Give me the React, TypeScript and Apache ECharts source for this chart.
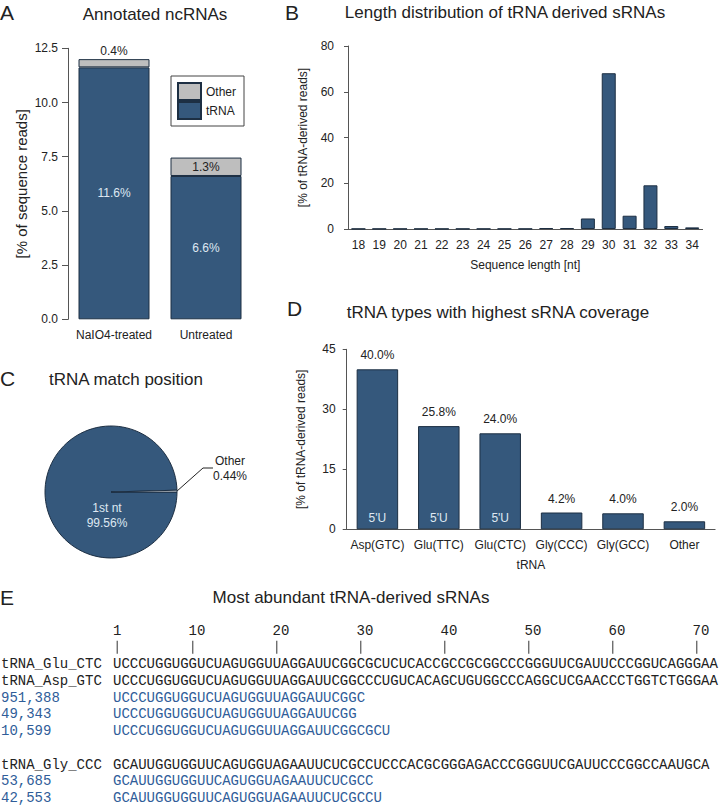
import React, { useEffect, useRef } from 'react';
import * as echarts from 'echarts';

// ---------- Panel A: annotated ncRNAs ----------
const treatments = ['NaIO4-treated', 'Untreated'];
const trnaShare = [11.62, 6.61];
const otherShare = [0.38, 0.85];
const trnaShareLabels = ['11.6%', '6.6%'];
const otherShareLabels = ['0.4%', '1.3%'];

// ---------- Panel B: length distribution ----------
const lengths = ['18', '19', '20', '21', '22', '23', '24', '25', '26', '27', '28', '29', '30', '31', '32', '33', '34'];
const lengthShare = [0.1, 0.1, 0.1, 0.1, 0.1, 0.1, 0.1, 0.1, 0.1, 0.4, 0.4, 4.6, 68.1, 5.8, 19.1, 1.3, 0.7];

// ---------- Panel C: match position ----------
const matchNames = ['1st nt', 'Other'];
const matchShare = [99.56, 0.44];

// ---------- Panel D: tRNA types ----------
const trnaTypes = ['Asp(GTC)', 'Glu(TTC)', 'Glu(CTC)', 'Gly(CCC)', 'Gly(GCC)', 'Other'];
const typeShare = [40.0, 25.8, 24.0, 4.2, 4.0, 2.0];
const fiveU = [true, true, true, false, false, false];

// ---------- Panel E: sequences ----------
const rulerMarks = [1, 10, 20, 30, 40, 50, 60, 70];
const group1Names = ['tRNA_Glu_CTC', 'tRNA_Asp_GTC'];
const group1Seqs = [
  'UCCCUGGUGGUCUAGUGGUUAGGAUUCGGCGCUCUCACCGCCGCGGCCCGGGUUCGAUUCCCGGUCAGGGAA',
  'UCCCUGGUGGUCUAGUGGUUAGGAUUCGGCCCUGUCACAGCUGUGGCCCAGGCUCGAACCCTGGTCTGGGAA',
];
const group1Counts = ['951,388', '49,343', '10,599'];
const group1Reads = [
  'UCCCUGGUGGUCUAGUGGUUAGGAUUCGGC',
  'UCCCUGGUGGUCUAGUGGUUAGGAUUCGG',
  'UCCCUGGUGGUCUAGUGGUUAGGAUUCGGCGCU',
];
const group2Names = ['tRNA_Gly_CCC'];
const group2Seqs = ['GCAUUGGUGGUUCAGUGGUAGAAUUCUCGCCUCCCACGCGGGAGACCCGGGUUCGAUUCCCGGCCAAUGCA'];
const group2Counts = ['53,685', '42,553'];
const group2Reads = ['GCAUUGGUGGUUCAGUGGUAGAAUUCUCGCC', 'GCAUUGGUGGUUCAGUGGUAGAAUUCUCGCCU'];

const BLUE = '#35587c';
const EDGE = '#1d2f43';
const GRAY = '#bebebe';
const LIGHT = '#dfe8f2';
const INK = '#222222';
const AXIS = '#555555';
const SEQ_BLUE = '#2f5d99';
const SANS = '"Liberation Sans", Arial, sans-serif';
const MONO = '"Liberation Mono", "Courier New", monospace';

function txt(text: string, x: number, y: number, size: number, align = 'center', color = INK, family = SANS) {
  return {
    type: 'text',
    x,
    y,
    silent: true,
    style: { text, fill: color, fontSize: size, fontFamily: family, align, verticalAlign: 'middle' },
  };
}

function buildOption() {
  const graphic: any[] = [];
  // panel letters and titles
  graphic.push(txt('A', 0, 12, 21, 'left'));
  graphic.push(txt('Annotated ncRNAs', 155, 14.5, 17));
  graphic.push(txt('B', 285, 12, 21, 'left'));
  graphic.push(txt('Length distribution of tRNA derived sRNAs', 505, 12.5, 17));
  graphic.push(txt('C', 0, 378, 21, 'left'));
  graphic.push(txt('tRNA match position', 126, 379, 17));
  graphic.push(txt('D', 287, 308, 21, 'left'));
  graphic.push(txt('tRNA types with highest sRNA coverage', 498, 312.7, 17));
  graphic.push(txt('E', 0, 597.5, 21, 'left'));
  graphic.push(txt('Most abundant tRNA-derived sRNAs', 351, 597, 17));

  // panel E sequence block
  const seqX = 113;
  const charW = 8.4;
  const rowH = 16.75;
  const row0 = 664;
  rulerMarks.forEach((m) => {
    const cx = seqX + (m - 1) * charW;
    graphic.push(txt(String(m), cx, row0 - 2 * rowH, 14, 'left', INK, MONO));
    graphic.push({
      type: 'line',
      silent: true,
      shape: { x1: cx + charW / 2, y1: row0 - rowH - 6.5, x2: cx + charW / 2, y2: row0 - rowH + 6.5 },
      style: { stroke: '#333', lineWidth: 1 },
    });
  });
  const groups = [
    { names: group1Names, seqs: group1Seqs, counts: group1Counts, reads: group1Reads },
    { names: group2Names, seqs: group2Seqs, counts: group2Counts, reads: group2Reads },
  ];
  let r = 0;
  groups.forEach((g, gi) => {
    if (gi > 0) r += 1;
    g.names.forEach((n, i) => {
      const y = row0 + r * rowH;
      graphic.push(txt(n, 1, y, 14, 'left', INK, MONO));
      graphic.push(txt(g.seqs[i], seqX, y, 14, 'left', INK, MONO));
      r += 1;
    });
    g.counts.forEach((c, i) => {
      const y = row0 + r * rowH;
      graphic.push(txt(c, 1, y, 14, 'left', SEQ_BLUE, MONO));
      graphic.push(txt(g.reads[i], seqX, y, 14, 'left', SEQ_BLUE, MONO));
      r += 1;
    });
  });

  const axisLine = { show: true, lineStyle: { color: AXIS, width: 1 } };
  const axisLabel = { color: INK, fontSize: 12, fontFamily: SANS, interval: 0 };
  const nameStyle = { color: INK, fontSize: 12, fontFamily: SANS };
  const barStyle = { color: BLUE, borderColor: EDGE, borderWidth: 1 };

  return {
    animation: false,
    backgroundColor: '#ffffff',
    textStyle: { fontFamily: SANS },
    grid: [
      { left: 68, top: 48.3, width: 184, height: 271 },
      { left: 348, top: 46, width: 354.6, height: 183 },
      { left: 346.7, top: 349.3, width: 368.4, height: 180 },
    ],
    legend: {
      data: ['Other', 'tRNA'],
      orient: 'vertical',
      left: 171,
      top: 76,
      icon: 'rect',
      itemWidth: 23,
      itemHeight: 17,
      itemGap: 0,
      padding: [6, 8, 6, 6],
      borderColor: '#444',
      borderWidth: 1,
      textStyle: { color: INK, fontSize: 12, fontFamily: SANS },
      selectedMode: false,
    },
    xAxis: [
      {
        gridIndex: 0,
        type: 'category',
        data: treatments,
        axisLine: { show: false },
        axisTick: { show: false },
        axisLabel: { ...axisLabel, margin: 10 },
      },
      {
        gridIndex: 1,
        type: 'category',
        data: lengths,
        axisLine,
        axisTick: { show: false },
        axisLabel: { ...axisLabel, margin: 10 },
        name: 'Sequence length [nt]',
        nameLocation: 'middle',
        nameGap: 30,
        nameTextStyle: nameStyle,
      },
      {
        gridIndex: 2,
        type: 'category',
        data: trnaTypes,
        axisLine,
        axisTick: { show: false },
        axisLabel: { ...axisLabel, margin: 10 },
        name: 'tRNA',
        nameLocation: 'middle',
        nameGap: 30,
        nameTextStyle: nameStyle,
      },
    ],
    yAxis: [
      {
        gridIndex: 0,
        type: 'value',
        min: 0,
        max: 12.5,
        interval: 2.5,
        axisLine,
        axisTick: { show: true, length: 6, lineStyle: { color: AXIS } },
        axisLabel: { ...axisLabel, margin: 10, formatter: (v: number) => v.toFixed(1) },
        splitLine: { show: false },
        name: '[% of sequence reads]',
        nameLocation: 'middle',
        nameGap: 39,
        nameTextStyle: { ...nameStyle, fontSize: 15 },
      },
      {
        gridIndex: 1,
        type: 'value',
        min: 0,
        max: 80,
        interval: 20,
        axisLine,
        axisTick: { show: true, length: 4, lineStyle: { color: AXIS } },
        axisLabel: { ...axisLabel, margin: 14 },
        splitLine: { show: false },
        name: '[% of tRNA-derived reads]',
        nameLocation: 'middle',
        nameGap: 39,
        nameTextStyle: nameStyle,
      },
      {
        gridIndex: 2,
        type: 'value',
        min: 0,
        max: 45,
        interval: 15,
        axisLine,
        axisTick: { show: true, length: 4, lineStyle: { color: AXIS } },
        axisLabel: { ...axisLabel, margin: 11 },
        splitLine: { show: false },
        name: '[% of tRNA-derived reads]',
        nameLocation: 'middle',
        nameGap: 40,
        nameTextStyle: nameStyle,
      },
    ],
    series: [
      {
        type: 'bar',
        name: 'tRNA',
        xAxisIndex: 0,
        yAxisIndex: 0,
        stack: 'a',
        barWidth: 71,
        silent: true,
        data: trnaShare,
        itemStyle: barStyle,
        label: {
          show: true,
          position: 'inside',
          color: LIGHT,
          fontSize: 12,
          fontFamily: SANS,
          formatter: (p: any) => trnaShareLabels[p.dataIndex],
        },
      },
      {
        type: 'bar',
        name: 'Other',
        xAxisIndex: 0,
        yAxisIndex: 0,
        stack: 'a',
        barWidth: 71,
        silent: true,
        data: otherShare.map((v) => ({ value: v, label: { position: v < 0.6 ? 'top' : 'inside' } })),
        itemStyle: { color: GRAY, borderColor: EDGE, borderWidth: 1 },
        label: {
          show: true,
          color: INK,
          fontSize: 12,
          distance: 2,
          fontFamily: SANS,
          formatter: (p: any) => otherShareLabels[p.dataIndex],
        },
      },
      {
        type: 'bar',
        name: 'length',
        xAxisIndex: 1,
        yAxisIndex: 1,
        barWidth: 14,
        silent: true,
        data: lengthShare,
        itemStyle: barStyle,
      },
      {
        type: 'bar',
        name: 'types',
        xAxisIndex: 2,
        yAxisIndex: 2,
        barWidth: 41.5,
        barGap: '-100%',
        silent: true,
        data: typeShare,
        itemStyle: barStyle,
        label: {
          show: true,
          position: 'top',
          distance: 8,
          color: INK,
          fontSize: 12,
          fontFamily: SANS,
          formatter: (p: any) => `${Number(p.value).toFixed(1)}%`,
        },
      },
      {
        type: 'bar',
        name: 'fiveU',
        xAxisIndex: 2,
        yAxisIndex: 2,
        barWidth: 41.5,
        barGap: '-100%',
        silent: true,
        data: typeShare.map((v, i) => ({ value: v, label: { show: fiveU[i] } })),
        itemStyle: { color: 'rgba(0,0,0,0)', borderWidth: 0 },
        label: {
          position: 'insideBottom',
          distance: 5,
          color: LIGHT,
          fontSize: 12,
          fontFamily: SANS,
          formatter: () => "5'U",
        },
      },
      {
        type: 'pie',
        name: 'match',
        center: [111, 492],
        radius: 66,
        startAngle: 0,
        clockwise: true,
        silent: true,
        avoidLabelOverlap: false,
        itemStyle: { borderColor: EDGE, borderWidth: 1 },
        data: matchNames.map((n, i) => ({
          name: n,
          value: matchShare[i],
          itemStyle: { color: i === 0 ? BLUE : '#ffffff' },
          label: i === 0 ? { position: 'inside', color: LIGHT } : { position: 'outside', color: INK },
          labelLine:
            i === 0 ? { show: false } : { show: true, length: 18, length2: 10, lineStyle: { color: INK, width: 1 } },
        })),
        label: {
          show: true,
          fontSize: 12,
          lineHeight: 15,
          fontFamily: SANS,
          formatter: (p: any) => `${p.name}\n${matchShare[p.dataIndex].toFixed(2)}%`,
        },
        labelLayout: (p: any) =>
          p.dataIndex === 1
            ? { x: 230, y: 468, align: 'center', verticalAlign: 'middle' }
            : { x: 107, y: 515, align: 'center', verticalAlign: 'middle' },
      },
    ],
    graphic,
  };
}

export default function App() {
  const ref = useRef<HTMLDivElement>(null);
  useEffect(() => {
    if (!ref.current) return;
    const chart = echarts.init(ref.current, null, { renderer: 'svg' });
    chart.setOption(buildOption() as any);
    return () => chart.dispose();
  }, []);
  return (
    <div
      ref={ref}
      style={{ position: 'absolute', left: 0, top: 0, width: 720, height: 806, background: '#ffffff' }}
    />
  );
}
